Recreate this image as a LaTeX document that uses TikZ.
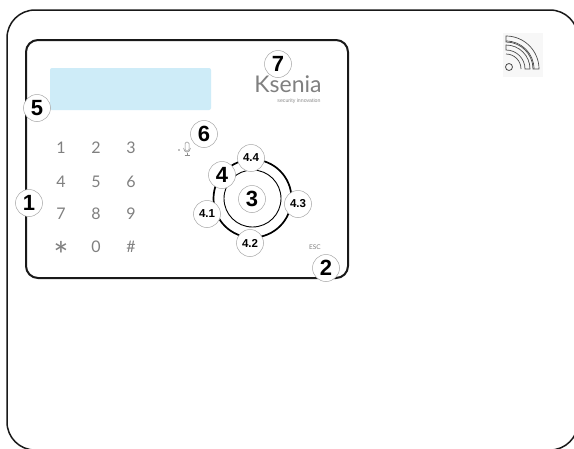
\documentclass[tikz,border=0pt]{standalone}
\usepackage{fontspec}
\setmainfont{Liberation Sans}
\newfontfamily\keyf{Lato}
\definecolor{lcd}{RGB}{206,236,248}
\begin{document}
\begin{tikzpicture}[x=1pt,y=-1pt,
  callout/.style={circle,draw=black!35,fill=white,line width=0.5pt,inner sep=0pt,minimum size=27pt,font=\bfseries\fontsize{22}{22}\selectfont,text=black},
  subcallout/.style={circle,draw=black!35,fill=white,line width=0.5pt,inner sep=0pt,minimum size=27pt,font=\bfseries\fontsize{11.5}{11.5}\selectfont,text=black},
  keylab/.style={text=black!50,inner sep=0pt,font=\keyf\fontsize{16}{16}\selectfont},
  shell/.style={draw=black!90,line width=1.5pt,rounded corners=28pt},
  panel/.style={draw=black!90,line width=2pt,rounded corners=12pt},
  icon/.style={draw=black!70,line width=0.7pt}]
\useasboundingbox (0,0) rectangle (574,448);
\fill[white] (0,0) rectangle (574,448);
\draw[shell] (7,10) rectangle (578,450);
\draw[panel] (26,40) rectangle (348,278);
\fill[lcd,rounded corners=2pt] (50,68) rectangle (211,110);
\node[keylab] (k1) at (61,148) {1};
\node[keylab] (k2) at (96,148) {2};
\node[keylab] (k3) at (131,148) {3};
\node[keylab] (k4) at (61,182) {4};
\node[keylab] (k5) at (96,182) {5};
\node[keylab] (k6) at (131,182) {6};
\node[keylab] (k7) at (61,214) {7};
\node[keylab] (k8) at (96,214) {8};
\node[keylab] (k9) at (131,214) {9};
\node[text=black!50,inner sep=0pt,font=\keyf\fontsize{36}{36}\selectfont] (kstar) at (61,255) {*};
\node[keylab] (k0) at (96,247) {0};
\node[keylab] (khash) at (131,247) {\#};
\draw[black,line width=0.9pt] (252.5,198.5) circle (28.5pt);
\draw[black,line width=1.7pt] (252.5,198.5) circle (39pt);
% microphone
\draw[black!45,line width=0.5pt,rounded corners=1.5pt] (185,142) rectangle (189,151);
\draw[black!45,line width=0.5pt] (183.5,148) .. controls (184,153.5) and (190,153.5) .. (190.5,148);
\draw[black!45,line width=0.5pt] (187,152.5) -- (187,155) (184.5,155) -- (189.5,155);
\fill[black!50] (179,150) circle (0.8pt);
% logo
\node[text=black!50,inner sep=0pt,font=\keyf\fontsize{23}{23}\selectfont] (logo) at (288,84) {Ksenia};
\node[text=black!45,inner sep=0pt,font=\fontsize{5.2}{5.2}\selectfont] (tag) at (299,101) {security innovation};
\node[text=black!50,inner sep=0pt,font=\keyf\fontsize{6.5}{6.5}\selectfont] (esc) at (315,247) {ESC};
% wifi icon
\fill[black!3] (503,33) rectangle (543,77);
\draw[icon] (506,36) arc (-90:0:33) -- ++(-6,0) arc (0:-90:27) -- cycle;
\draw[icon] (506,45) arc (-90:0:24) -- ++(-5,0) arc (0:-90:19) -- cycle;
\draw[icon] (506,41) arc (-90:0:28);
\draw[icon] (506,54) arc (-90:0:15);
\draw[black!70,line width=0.8pt] (509,67) circle (3.5pt);
% callouts
\node[callout] (c1) at (29,203) {1};
\node[callout] (c2) at (326,268) {2};
\node[callout] (c3) at (252,199) {3};
\node[callout] (c4) at (222,175) {4};
\node[callout] (c5) at (37,108) {5};
\node[callout] (c6) at (204,134) {6};
\node[callout] (c7) at (278,64) {7};
\node[subcallout] (c41) at (207,214) {4.1};
\node[subcallout] (c42) at (250,243) {4.2};
\node[subcallout] (c43) at (298,204) {4.3};
\node[subcallout] (c44) at (251,158) {4.4};
\end{tikzpicture}
\end{document}
